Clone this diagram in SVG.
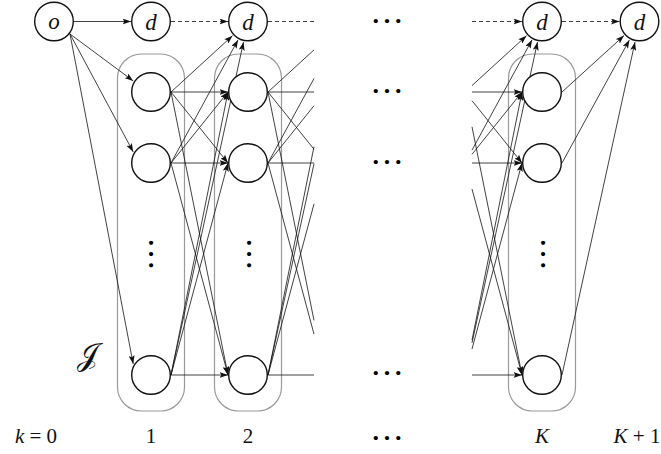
<svg xmlns="http://www.w3.org/2000/svg" width="661" height="454" viewBox="0 0 661 454">
<defs>
<marker id="ah" markerUnits="userSpaceOnUse" markerWidth="9" markerHeight="6" refX="8.5" refY="3" orient="auto">
<path d="M0,0 L8.5,3 L0,6 L1.8,3 Z" fill="#111"/>
</marker>
</defs>
<style>
.n{fill:#fff;stroke:#111;stroke-width:1.4}
.grp{fill:none;stroke:#9a9a9a;stroke-width:1.2}
.e{fill:none;stroke:#111;stroke-width:0.8}
.a{marker-end:url(#ah)}
.ds{stroke-dasharray:4 3}
.lbl{font-family:"Liberation Serif",serif;font-size:21px;fill:#111}
.it{font-style:italic}
.nl{font-family:"Liberation Serif",serif;font-size:23px;font-style:italic;fill:#111}
.scr{font-family:"DejaVu Serif",serif;font-size:31px;fill:#111}
.dots{font-family:"Liberation Serif",serif;font-size:26px;font-weight:bold;letter-spacing:4.8px;fill:#000}
</style>

<g id="groups">
<rect class="grp" x="117.5" y="54" width="67" height="357" rx="24"/>
<rect class="grp" x="214.5" y="54" width="67" height="357" rx="24"/>
<rect class="grp" x="508.5" y="54" width="67" height="357" rx="24"/>
</g>

<g id="connectors">
<line class="e a" x1="74" y1="21.5" x2="131" y2="21.5"/>
<line class="e a" x1="70" y1="34" x2="133.2" y2="80.9"/>
<line class="e a" x1="70" y1="34" x2="133.2" y2="151.9"/>
<line class="e a" x1="70" y1="34" x2="133.2" y2="363.9"/>
<line class="e a ds" x1="171" y1="21.5" x2="228" y2="21.5"/>
<line class="e ds" x1="268" y1="21.5" x2="314" y2="21.5"/>
<line class="e a ds" x1="472" y1="21.5" x2="522" y2="21.5"/>
<line class="e a ds" x1="562" y1="21.5" x2="619.5" y2="21.5"/>
<line class="e a" x1="171" y1="92" x2="228" y2="92"/>
<line class="e a" x1="171" y1="92" x2="228" y2="163"/>
<line class="e a" x1="171" y1="92" x2="228" y2="375"/>
<line class="e a" x1="171" y1="163" x2="228" y2="92"/>
<line class="e a" x1="171" y1="163" x2="228" y2="163"/>
<line class="e a" x1="171" y1="163" x2="228" y2="375"/>
<line class="e a" x1="171" y1="375" x2="228" y2="92"/>
<line class="e a" x1="171" y1="375" x2="228" y2="163"/>
<line class="e a" x1="171" y1="375" x2="228" y2="375"/>
<line class="e a" x1="171" y1="92" x2="232.5" y2="35.7"/>
<line class="e a" x1="171" y1="163" x2="238" y2="39.9"/>
<line class="e a" x1="171" y1="375" x2="243.5" y2="42"/>
<line class="e" x1="268" y1="92" x2="314" y2="92"/>
<line class="e" x1="268" y1="92" x2="314" y2="149.3"/>
<line class="e" x1="268" y1="92" x2="314" y2="320.4"/>
<line class="e" x1="268" y1="163" x2="314" y2="105.7"/>
<line class="e" x1="268" y1="163" x2="314" y2="163"/>
<line class="e" x1="268" y1="163" x2="314" y2="334.1"/>
<line class="e" x1="268" y1="375" x2="314" y2="146.6"/>
<line class="e" x1="268" y1="375" x2="314" y2="203.9"/>
<line class="e" x1="268" y1="375" x2="314" y2="375"/>
<line class="e" x1="268" y1="92" x2="314" y2="49.9"/>
<line class="e" x1="268" y1="163" x2="314" y2="78.5"/>
<line class="e" x1="268" y1="375" x2="314" y2="163.8"/>
<line class="e a" x1="472" y1="92" x2="522" y2="92"/>
<line class="e a" x1="472" y1="100.7" x2="522" y2="163"/>
<line class="e a" x1="472" y1="126.8" x2="522" y2="375"/>
<line class="e a" x1="472" y1="154.3" x2="522" y2="92"/>
<line class="e a" x1="472" y1="163" x2="522" y2="163"/>
<line class="e a" x1="472" y1="189" x2="522" y2="375"/>
<line class="e a" x1="472" y1="340.2" x2="522" y2="92"/>
<line class="e a" x1="472" y1="349" x2="522" y2="163"/>
<line class="e a" x1="472" y1="375" x2="522" y2="375"/>
<line class="e a" x1="472" y1="85.6" x2="526.5" y2="35.7"/>
<line class="e a" x1="472" y1="150.1" x2="532" y2="39.9"/>
<line class="e a" x1="472" y1="342.9" x2="537.5" y2="42"/>
<line class="e a" x1="562" y1="92" x2="624" y2="35.6"/>
<line class="e a" x1="562" y1="163" x2="629.4" y2="39.9"/>
<line class="e a" x1="562" y1="375" x2="635" y2="42"/>
</g>

<g id="o"><circle class="n" cx="54" cy="21.5" r="19.3"/><text class="nl" x="54" y="28.5" text-anchor="middle">o</text></g>
<g id="d1"><circle class="n" cx="151" cy="21.5" r="19.3"/><text class="nl" x="151" y="29.5" text-anchor="middle">d</text></g>
<g id="d2"><circle class="n" cx="248" cy="21.5" r="19.3"/><text class="nl" x="248" y="29.5" text-anchor="middle">d</text></g>
<g id="dK"><circle class="n" cx="542" cy="21.5" r="19.3"/><text class="nl" x="542" y="29.5" text-anchor="middle">d</text></g>
<g id="dK1"><circle class="n" cx="639.5" cy="21.5" r="19.3"/><text class="nl" x="639.5" y="29.5" text-anchor="middle">d</text></g>

<g id="n1a"><circle class="n" cx="151" cy="92" r="19.3"/></g>
<g id="n1b"><circle class="n" cx="151" cy="163" r="19.3"/></g>
<g id="n1c"><circle class="n" cx="151" cy="375" r="19.3"/></g>
<g id="n2a"><circle class="n" cx="248" cy="92" r="19.3"/></g>
<g id="n2b"><circle class="n" cx="248" cy="163" r="19.3"/></g>
<g id="n2c"><circle class="n" cx="248" cy="375" r="19.3"/></g>
<g id="nKa"><circle class="n" cx="542" cy="92" r="19.3"/></g>
<g id="nKb"><circle class="n" cx="542" cy="163" r="19.3"/></g>
<g id="nKc"><circle class="n" cx="542" cy="375" r="19.3"/></g>

<g id="ellipses">
<text class="dots" transform="translate(148.6,256.4) rotate(90)" text-anchor="middle">...</text>
<text class="dots" transform="translate(246.6,256.4) rotate(90)" text-anchor="middle">...</text>
<text class="dots" transform="translate(540.6,256.4) rotate(90)" text-anchor="middle">...</text>
<text class="dots" x="389.4" y="22.9" text-anchor="middle">...</text>
<text class="dots" x="389.4" y="93.4" text-anchor="middle">...</text>
<text class="dots" x="389.4" y="164.4" text-anchor="middle">...</text>
<text class="dots" x="389.4" y="374.9" text-anchor="middle">...</text>
<text class="dots" x="389.4" y="440.4" text-anchor="middle">...</text>
</g>

<g id="labels">
<text class="scr" x="87" y="365" text-anchor="middle">𝒥</text>
<text class="lbl" x="36" y="443" text-anchor="middle" xml:space="preserve"><tspan class="it">k</tspan> = 0</text>
<text class="lbl" x="151" y="443" text-anchor="middle">1</text>
<text class="lbl" x="248" y="443" text-anchor="middle">2</text>
<text class="lbl it" x="542" y="443" text-anchor="middle">K</text>
<text class="lbl" x="637" y="443" text-anchor="middle"><tspan class="it">K</tspan> + 1</text>
</g>
</svg>
